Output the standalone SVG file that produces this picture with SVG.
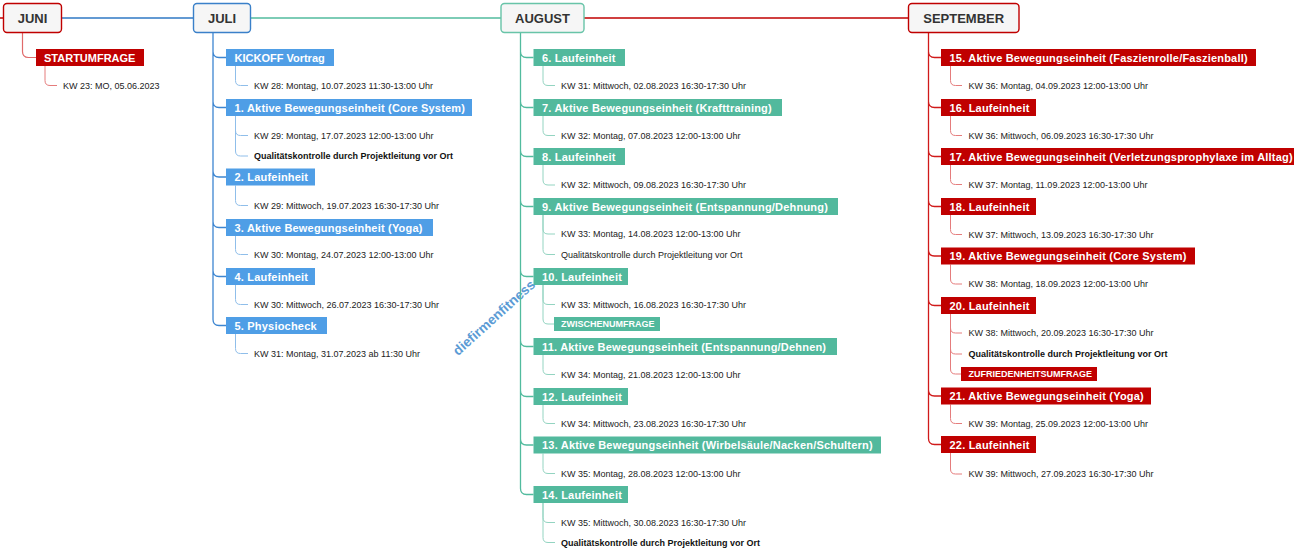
<svg xmlns="http://www.w3.org/2000/svg" width="1304" height="549" viewBox="0 0 1304 549">
<style>
.mb{fill:#f6f6f6;stroke-width:1.4}
.mt{font:bold 13px "Liberation Sans",Arial,sans-serif;fill:#333;text-anchor:middle}
.lb{font:bold 11px "Liberation Sans",Arial,sans-serif;fill:#fff;letter-spacing:.2px}
.d{font:9px "Liberation Sans",Arial,sans-serif;fill:#222}
.db{font:bold 9px "Liberation Sans",Arial,sans-serif;fill:#111}
.pl{font:bold 9px "Liberation Sans",Arial,sans-serif;fill:#fff}
.red{fill:#c00000}.blue{fill:#4f9ee6}.green{fill:#52b99d}
.ln{fill:none}
.wm{font:bold 13.6px "Liberation Sans",Arial,sans-serif;fill:#5b9bd5;text-anchor:middle}
</style>
<rect width="1304" height="549" fill="#fff"/>
<text class="wm" transform="translate(497 321) rotate(-42)">diefirmenfitness</text>
<g id="connectors" class="ln">
  <path d="M0 18H3.5" stroke="#c00000" stroke-width="1.5"/>
  <path d="M61.5 18H193.5" stroke="#2f78c4" stroke-width="1.5"/>
  <path d="M250.5 18H501" stroke="#52bb9e" stroke-width="1.5"/>
  <path d="M584 18H908" stroke="#c00000" stroke-width="1.5"/>
  <path d="M22.5 32.5V51.5Q22.5 57.5 28.5 57.5H36" stroke="#e06a6a" stroke-width="1.2"/>
  <path d="M45 66V80.5Q45 85.5 50 85.5H57" stroke="#e57c7c" stroke-width="1"/>
  <path d="M213 32.5V51.5Q213 57.5 219 57.5H226M213 32.5V101.5Q213 107.5 219 107.5H226M213 32.5V171Q213 177 219 177H226M213 32.5V221.5Q213 227.5 219 227.5H226M213 32.5V270.5Q213 276.5 219 276.5H226M213 32.5V319.5Q213 325.5 219 325.5H226" stroke="#3d86d1" stroke-width="1.3"/>
  <path d="M235.5 66V80.5Q235.5 85.5 240.5 85.5H248M235.5 116V130.5Q235.5 135.5 240.5 135.5H248M235.5 116V151Q235.5 156 240.5 156H248M235.5 185.5V200.5Q235.5 205.5 240.5 205.5H248M235.5 236V249.5Q235.5 254.5 240.5 254.5H248M235.5 285V299.5Q235.5 304.5 240.5 304.5H248M235.5 334V348.5Q235.5 353.5 240.5 353.5H248" stroke="#8fbeea" stroke-width="1"/>
  <path d="M520.5 32.5V51.5Q520.5 57.5 526.5 57.5H533.5M520.5 32.5V101.5Q520.5 107.5 526.5 107.5H533.5M520.5 32.5V150.5Q520.5 156.5 526.5 156.5H533.5M520.5 32.5V200.5Q520.5 206.5 526.5 206.5H533.5M520.5 32.5V270.5Q520.5 276.5 526.5 276.5H533.5M520.5 32.5V340.5Q520.5 346.5 526.5 346.5H533.5M520.5 32.5V390.5Q520.5 396.5 526.5 396.5H533.5M520.5 32.5V439Q520.5 445 526.5 445H533.5M520.5 32.5V488.5Q520.5 494.5 526.5 494.5H533.5" stroke="#52bb9e" stroke-width="1.3"/>
  <path d="M543 66V80.5Q543 85.5 548 85.5H555M543 116V130.5Q543 135.5 548 135.5H555M543 165V180Q543 185 548 185H555M543 215V229Q543 234 548 234H555M543 215V249.5Q543 254.5 548 254.5H555M543 285V299.5Q543 304.5 548 304.5H555M543 285V319Q543 324 548 324H554M543 355V369.5Q543 374.5 548 374.5H555M543 405V418.5Q543 423.5 548 423.5H555M543 453.5V468.5Q543 473.5 548 473.5H555M543 503V517.5Q543 522.5 548 522.5H555M543 503V537.5Q543 542.5 548 542.5H555" stroke="#93d4c1" stroke-width="1"/>
  <path d="M928.5 32.5V51.5Q928.5 57.5 934.5 57.5H941M928.5 32.5V101.5Q928.5 107.5 934.5 107.5H941M928.5 32.5V150.5Q928.5 156.5 934.5 156.5H941M928.5 32.5V200.5Q928.5 206.5 934.5 206.5H941M928.5 32.5V250Q928.5 256 934.5 256H941M928.5 32.5V299.5Q928.5 305.5 934.5 305.5H941M928.5 32.5V390Q928.5 396 934.5 396H941M928.5 32.5V438.5Q928.5 444.5 934.5 444.5H941" stroke="#d01a1a" stroke-width="1.3"/>
  <path d="M950.5 66V80.5Q950.5 85.5 955.5 85.5H962M950.5 116V130.5Q950.5 135.5 955.5 135.5H962M950.5 165V179.5Q950.5 184.5 955.5 184.5H962M950.5 215V229.5Q950.5 234.5 955.5 234.5H962M950.5 264.5V279Q950.5 284 955.5 284H962M950.5 314V328Q950.5 333 955.5 333H962M950.5 314V349Q950.5 354 955.5 354H962M950.5 314V369Q950.5 374 955.5 374H961M950.5 404.5V418.5Q950.5 423.5 955.5 423.5H962M950.5 453V469Q950.5 474 955.5 474H962" stroke="#e57c7c" stroke-width="1"/>
</g>
<g id="juni">
  <rect class="mb" x="3.5" y="3.5" width="58" height="29" rx="3.5" stroke="#c00000"/>
  <text class="mt" x="32.5" y="22.6">JUNI</text>
</g>
<g id="startumfrage">
  <rect class="red" x="36" y="49" width="108" height="17"/>
  <text class="lb" x="44" y="61.5" style="letter-spacing:0">STARTUMFRAGE</text>
  <text class="d" x="63" y="88.7">KW 23: MO, 05.06.2023</text>
</g>
<g id="juli">
  <rect class="mb" x="193.5" y="3.5" width="57" height="29" rx="3.5" stroke="#3a80c9"/>
  <text class="mt" x="222" y="22.6">JULI</text>
</g>
<g id="juli-kickoff">
  <rect class="blue" x="226" y="49" width="108" height="17"/>
  <text class="lb" x="234.5" y="61.5" style="letter-spacing:0">KICKOFF Vortrag</text>
  <text class="d" x="254" y="88.7">KW 28: Montag, 10.07.2023 11:30-13:00 Uhr</text>
</g>
<g id="juli-1">
  <rect class="blue" x="226" y="99" width="246" height="17"/>
  <text class="lb" x="234.5" y="111.5">1. Aktive Bewegungseinheit (Core System)</text>
  <text class="d" x="254" y="138.7">KW 29: Montag, 17.07.2023 12:00-13:00 Uhr</text>
  <text class="db" x="254" y="159.2">Qualitätskontrolle durch Projektleitung vor Ort</text>
</g>
<g id="juli-2">
  <rect class="blue" x="226" y="168.5" width="89" height="17"/>
  <text class="lb" x="234.5" y="181">2. Laufeinheit</text>
  <text class="d" x="254" y="208.7">KW 29: Mittwoch, 19.07.2023 16:30-17:30 Uhr</text>
</g>
<g id="juli-3">
  <rect class="blue" x="226" y="219" width="207" height="17"/>
  <text class="lb" x="234.5" y="231.5">3. Aktive Bewegungseinheit (Yoga)</text>
  <text class="d" x="254" y="257.7">KW 30: Montag, 24.07.2023 12:00-13:00 Uhr</text>
</g>
<g id="juli-4">
  <rect class="blue" x="226" y="268" width="89" height="17"/>
  <text class="lb" x="234.5" y="280.5">4. Laufeinheit</text>
  <text class="d" x="254" y="307.7">KW 30: Mittwoch, 26.07.2023 16:30-17:30 Uhr</text>
</g>
<g id="juli-5">
  <rect class="blue" x="226" y="317" width="101" height="17"/>
  <text class="lb" x="234.5" y="329.5">5. Physiocheck</text>
  <text class="d" x="254" y="356.7">KW 31: Montag, 31.07.2023 ab 11:30 Uhr</text>
</g>
<g id="august">
  <rect class="mb" x="501" y="3.5" width="83" height="29" rx="3.5" stroke="#68c4a8"/>
  <text class="mt" x="542.5" y="22.6">AUGUST</text>
</g>
<g id="aug-6">
  <rect class="green" x="533.5" y="49" width="91.5" height="17"/>
  <text class="lb" x="542" y="61.5">6. Laufeinheit</text>
  <text class="d" x="561" y="88.9">KW 31: Mittwoch, 02.08.2023 16:30-17:30 Uhr</text>
</g>
<g id="aug-7">
  <rect class="green" x="533.5" y="99" width="248.5" height="17"/>
  <text class="lb" x="542" y="111.5">7. Aktive Bewegungseinheit (Krafttraining)</text>
  <text class="d" x="561" y="138.7">KW 32: Montag, 07.08.2023 12:00-13:00 Uhr</text>
</g>
<g id="aug-8">
  <rect class="green" x="533.5" y="148" width="91.5" height="17"/>
  <text class="lb" x="542" y="160.5">8. Laufeinheit</text>
  <text class="d" x="561" y="188.2">KW 32: Mittwoch, 09.08.2023 16:30-17:30 Uhr</text>
</g>
<g id="aug-9">
  <rect class="green" x="533.5" y="198" width="304.5" height="17"/>
  <text class="lb" x="542" y="210.5">9. Aktive Bewegungseinheit (Entspannung/Dehnung)</text>
  <text class="d" x="561" y="237.2">KW 33: Montag, 14.08.2023 12:00-13:00 Uhr</text>
  <text class="d" x="561" y="257.7">Qualitätskontrolle durch Projektleitung vor Ort</text>
</g>
<g id="aug-10">
  <rect class="green" x="533.5" y="268" width="94.5" height="17"/>
  <text class="lb" x="542" y="280.5">10. Laufeinheit</text>
  <text class="d" x="561" y="307.7">KW 33: Mittwoch, 16.08.2023 16:30-17:30 Uhr</text>
  <rect class="green" x="554" y="317" width="106" height="14"/>
  <text class="pl" x="561" y="327.2">ZWISCHENUMFRAGE</text>
</g>
<g id="aug-11">
  <rect class="green" x="533.5" y="338" width="303.5" height="17"/>
  <text class="lb" x="542" y="350.5">11. Aktive Bewegungseinheit (Entspannung/Dehnen)</text>
  <text class="d" x="561" y="377.6">KW 34: Montag, 21.08.2023 12:00-13:00 Uhr</text>
</g>
<g id="aug-12">
  <rect class="green" x="533.5" y="388" width="94.5" height="17"/>
  <text class="lb" x="542" y="400.5">12. Laufeinheit</text>
  <text class="d" x="561" y="426.8">KW 34: Mittwoch, 23.08.2023 16:30-17:30 Uhr</text>
</g>
<g id="aug-13">
  <rect class="green" x="533.5" y="436.5" width="347.5" height="17"/>
  <text class="lb" x="542" y="449">13. Aktive Bewegungseinheit (Wirbelsäule/Nacken/Schultern)</text>
  <text class="d" x="561" y="476.8">KW 35: Montag, 28.08.2023 12:00-13:00 Uhr</text>
</g>
<g id="aug-14">
  <rect class="green" x="533.5" y="486" width="94.5" height="17"/>
  <text class="lb" x="542" y="498.5">14. Laufeinheit</text>
  <text class="d" x="561" y="525.8">KW 35: Mittwoch, 30.08.2023 16:30-17:30 Uhr</text>
  <text class="db" x="561" y="545.6">Qualitätskontrolle durch Projektleitung vor Ort</text>
</g>
<g id="september">
  <rect class="mb" x="908.5" y="3.5" width="110.5" height="29" rx="3.5" stroke="#c00000"/>
  <text class="mt" x="963.7" y="22.6">SEPTEMBER</text>
</g>
<g id="sep-15">
  <rect class="red" x="941" y="49" width="315" height="17"/>
  <text class="lb" x="949.5" y="61.5">15. Aktive Bewegungseinheit (Faszienrolle/Faszienball)</text>
  <text class="d" x="968.5" y="88.9">KW 36: Montag, 04.09.2023 12:00-13:00 Uhr</text>
</g>
<g id="sep-16">
  <rect class="red" x="941" y="99" width="95" height="17"/>
  <text class="lb" x="949.5" y="111.5">16. Laufeinheit</text>
  <text class="d" x="968.5" y="138.5">KW 36: Mittwoch, 06.09.2023 16:30-17:30 Uhr</text>
</g>
<g id="sep-17">
  <rect class="red" x="941" y="148" width="353" height="17"/>
  <text class="lb" x="949.5" y="160.5">17. Aktive Bewegungseinheit (Verletzungsprophylaxe im Alltag)</text>
  <text class="d" x="968.5" y="187.5">KW 37: Montag, 11.09.2023 12:00-13:00 Uhr</text>
</g>
<g id="sep-18">
  <rect class="red" x="941" y="198" width="95" height="17"/>
  <text class="lb" x="949.5" y="210.5">18. Laufeinheit</text>
  <text class="d" x="968.5" y="237.5">KW 37: Mittwoch, 13.09.2023 16:30-17:30 Uhr</text>
</g>
<g id="sep-19">
  <rect class="red" x="941" y="247.5" width="254" height="17"/>
  <text class="lb" x="949.5" y="260">19. Aktive Bewegungseinheit (Core System)</text>
  <text class="d" x="968.5" y="287">KW 38: Montag, 18.09.2023 12:00-13:00 Uhr</text>
</g>
<g id="sep-20">
  <rect class="red" x="941" y="297" width="95" height="17"/>
  <text class="lb" x="949.5" y="309.5">20. Laufeinheit</text>
  <text class="d" x="968.5" y="336">KW 38: Mittwoch, 20.09.2023 16:30-17:30 Uhr</text>
  <text class="db" x="968.5" y="357">Qualitätskontrolle durch Projektleitung vor Ort</text>
  <rect class="red" x="961" y="367" width="136" height="14"/>
  <text class="pl" x="968.5" y="377.2">ZUFRIEDENHEITSUMFRAGE</text>
</g>
<g id="sep-21">
  <rect class="red" x="941" y="387.5" width="210" height="17"/>
  <text class="lb" x="949.5" y="400">21. Aktive Bewegungseinheit (Yoga)</text>
  <text class="d" x="968.5" y="426.6">KW 39: Montag, 25.09.2023 12:00-13:00 Uhr</text>
</g>
<g id="sep-22">
  <rect class="red" x="941" y="436" width="95" height="17"/>
  <text class="lb" x="949.5" y="448.5">22. Laufeinheit</text>
  <text class="d" x="968.5" y="477">KW 39: Mittwoch, 27.09.2023 16:30-17:30 Uhr</text>
</g>
</svg>
